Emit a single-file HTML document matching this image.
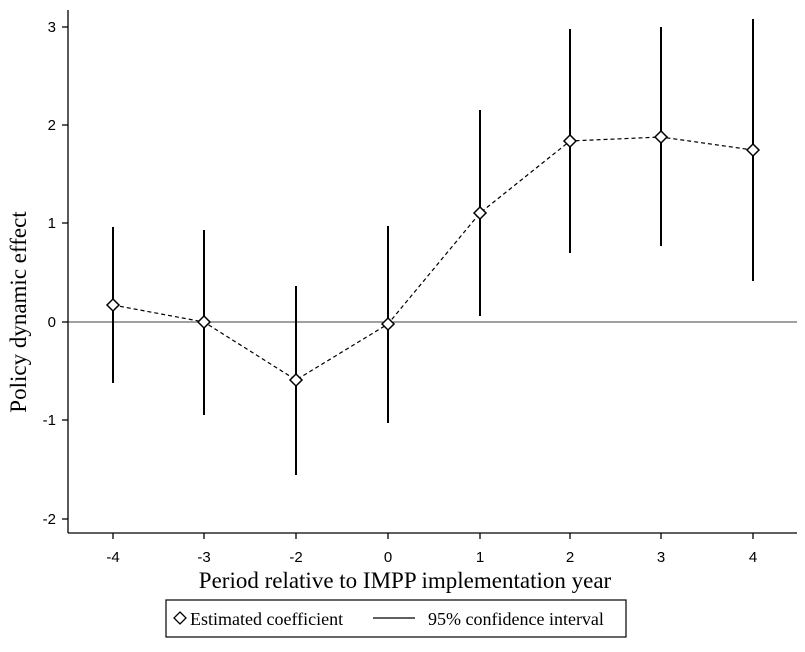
<!DOCTYPE html><html><head><style>body{margin:0;background:#fff}</style></head><body>
<svg width="805" height="647" xmlns="http://www.w3.org/2000/svg">
<rect width="805" height="647" fill="#fff"/>
<g stroke="#000" stroke-width="1.3" fill="none">
<line x1="68" y1="10" x2="68" y2="533"/>
<line x1="68" y1="533" x2="797" y2="533"/>
<line x1="62" y1="27" x2="68" y2="27"/><line x1="62" y1="125" x2="68" y2="125"/><line x1="62" y1="223" x2="68" y2="223"/><line x1="62" y1="322" x2="68" y2="322"/><line x1="62" y1="420" x2="68" y2="420"/><line x1="62" y1="519" x2="68" y2="519"/>
<line x1="113" y1="533" x2="113" y2="539"/><line x1="204" y1="533" x2="204" y2="539"/><line x1="296" y1="533" x2="296" y2="539"/><line x1="388" y1="533" x2="388" y2="539"/><line x1="480" y1="533" x2="480" y2="539"/><line x1="570" y1="533" x2="570" y2="539"/><line x1="661" y1="533" x2="661" y2="539"/><line x1="753" y1="533" x2="753" y2="539"/>
</g>
<line x1="68" y1="322" x2="797" y2="322" stroke="#000" stroke-width="0.8"/>
<g stroke="#000" stroke-width="2">
<line x1="113" y1="227" x2="113" y2="383"/>
<line x1="204" y1="230" x2="204" y2="415"/>
<line x1="296" y1="286" x2="296" y2="475"/>
<line x1="388" y1="226" x2="388" y2="423"/>
<line x1="480" y1="110" x2="480" y2="316"/>
<line x1="570" y1="29" x2="570" y2="253"/>
<line x1="661" y1="27" x2="661" y2="246"/>
<line x1="753" y1="19" x2="753" y2="281"/>
</g>
<polyline points="113,305 204,322 296,380 388,324 480,213 570,141 661,137 753,150" fill="none" stroke="#000" stroke-width="1.2" stroke-dasharray="4,3"/>
<g fill="#fff" stroke="#000" stroke-width="1.5">
<path d="M113 299l6 6-6 6-6-6z"/><path d="M204 316l6 6-6 6-6-6z"/><path d="M296 374l6 6-6 6-6-6z"/><path d="M388 318l6 6-6 6-6-6z"/><path d="M480 207l6 6-6 6-6-6z"/><path d="M570 135l6 6-6 6-6-6z"/><path d="M661 131l6 6-6 6-6-6z"/><path d="M753 144l6 6-6 6-6-6z"/>
</g>
<g font-family="Liberation Sans, sans-serif" font-size="15" fill="#000">
<g text-anchor="end"><text x="56" y="32">3</text><text x="56" y="130">2</text><text x="56" y="228">1</text><text x="56" y="327">0</text><text x="56" y="425">-1</text><text x="56" y="524">-2</text></g>
<g text-anchor="middle"><text x="113" y="562">-4</text><text x="204" y="562">-3</text><text x="296" y="562">-2</text><text x="388" y="562">0</text><text x="480" y="562">1</text><text x="570" y="562">2</text><text x="661" y="562">3</text><text x="753" y="562">4</text></g>
</g>
<g font-family="Liberation Serif, serif" fill="#000">
<text x="405" y="588" text-anchor="middle" font-size="23">Period relative to IMPP implementation year</text>
<text transform="translate(26,312) rotate(-90)" text-anchor="middle" font-size="23">Policy dynamic effect</text>
<rect x="166" y="600" width="460" height="37" fill="none" stroke="#000" stroke-width="1.2"/>
<path d="M180 612l6 6-6 6-6-6z" fill="none" stroke="#000" stroke-width="1.3"/>
<text x="190" y="625" font-size="18">Estimated coefficient</text>
<line x1="373" y1="618" x2="415" y2="618" stroke="#000" stroke-width="1.3"/>
<text x="428" y="625" font-size="18">95% confidence interval</text>
</g>
</svg></body></html>
